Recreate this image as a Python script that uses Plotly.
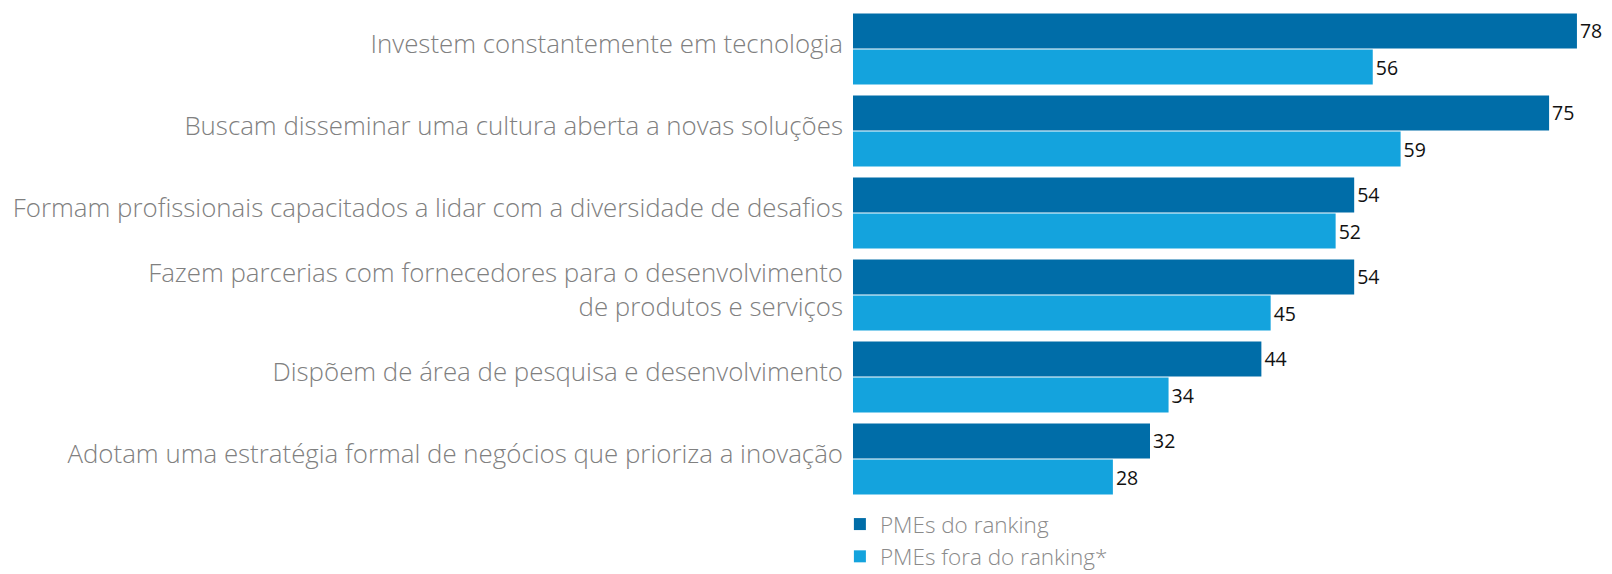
import plotly.graph_objects as go

categories = [
    "Investem constantemente em tecnologia",
    "Buscam disseminar uma cultura aberta a novas soluções",
    "Formam profissionais capacitados a lidar com a diversidade de desafios",
    "Fazem parcerias com fornecedores para o desenvolvimento<br>de produtos e serviços",
    "Dispõem de área de pesquisa e desenvolvimento",
    "Adotam uma estratégia formal de negócios que prioriza a inovação",
]
ranking = [78, 75, 54, 54, 44, 32]
fora = [56, 59, 52, 45, 34, 28]
series_names = ["PMEs do ranking", "PMEs fora do ranking*"]
colors = ["#006DA8", "#14A3DD"]

fig = go.Figure()
for name, vals, col in zip(series_names, [ranking, fora], colors):
    fig.add_trace(go.Bar(
        y=categories, x=vals, name=name, orientation="h",
        marker=dict(color=col, line=dict(width=0)),
        text=[str(v) for v in vals], textposition="outside",
        textfont=dict(family="Open Sans", size=19.5, color="#111111"),
        cliponaxis=False, showlegend=True,
    ))

fig.update_layout(
    width=1612, height=574,
    paper_bgcolor="white", plot_bgcolor="white",
    barmode="group", bargap=0.12, bargroupgap=0.03,
    margin=dict(l=845, r=18, t=0, b=82, autoexpand=False),
    font=dict(family="Open Sans", color="#7a7a7a"),
    showlegend=True,
    legend=dict(
        orientation="v", x=-0.0175, xanchor="left",
        y=-0.006, yanchor="top",
        font=dict(family="Open Sans", size=22.5, color="#8a8a8a", weight=300),
        itemwidth=30, tracegroupgap=0, bgcolor="rgba(0,0,0,0)",
    ),
    xaxis=dict(range=[0, 80.7], visible=False, showgrid=False, zeroline=False,
               automargin=False),
    yaxis=dict(
        autorange="reversed", showgrid=False, zeroline=False, showline=False,
        ticks="", ticklabelstandoff=9, ticklabelshift=5, automargin=False,
        tickfont=dict(family="Open Sans", size=25.85, color="#808080", weight=300),
    ),
)
fig.write_html("out.html")
